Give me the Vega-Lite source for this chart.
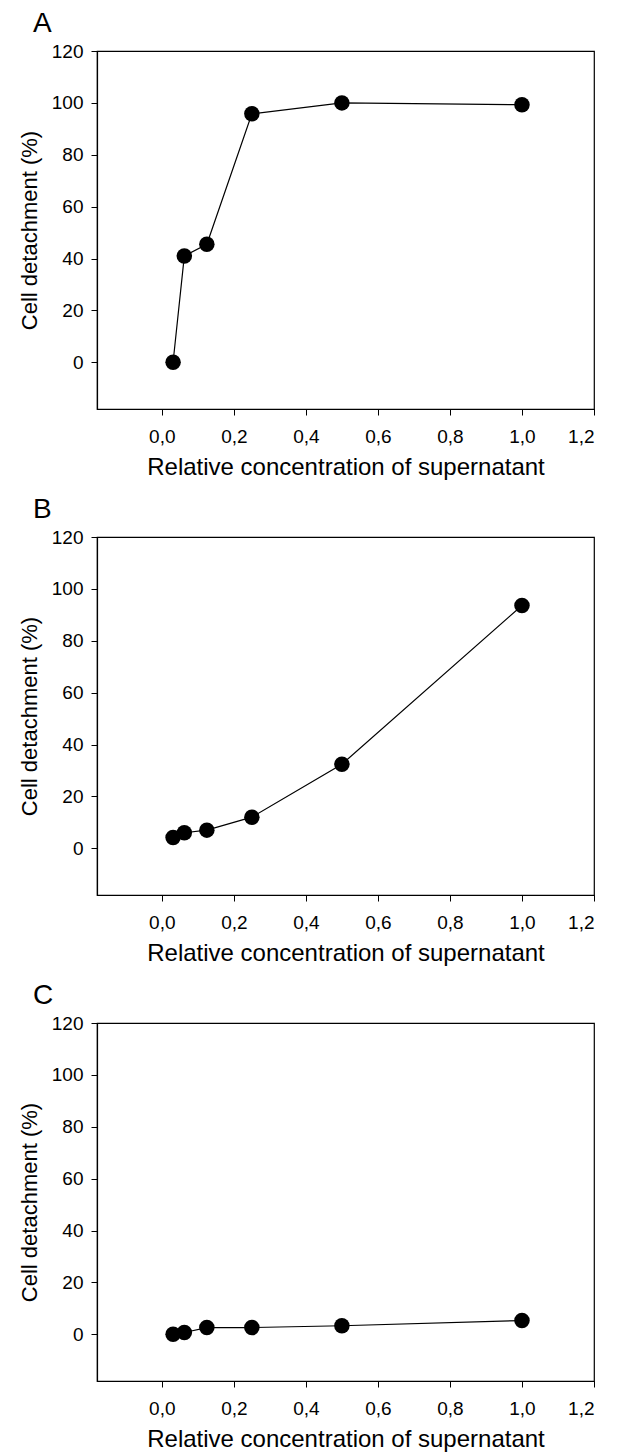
{
  "$schema": "https://vega.github.io/schema/vega-lite/v6.json",
  "padding": {"left": 17, "top": 9, "right": 5, "bottom": 5},
  "background": "white",
  "config": {
    "font": "Liberation Sans",
    "view": {"stroke": "black", "strokeWidth": 1.2},
    "axis": {
      "grid": false,
      "domainColor": "black",
      "domainWidth": 1.2,
      "tickColor": "black",
      "tickWidth": 1,
      "tickSize": 6,
      "labelFont": "Liberation Sans",
      "labelFontSize": 19,
      "labelColor": "black",
      "titleFont": "Liberation Sans",
      "titleFontWeight": "normal",
      "titleColor": "black"
    },
    "title": {"font": "Liberation Sans", "fontSize": 28, "fontWeight": "normal", "anchor": "start", "frame": "group", "color": "black"}
  },
  "data": {
    "values": [
      {"panel": "A", "conc": 0.03125, "detach": 0},
      {"panel": "A", "conc": 0.0625, "detach": 41},
      {"panel": "A", "conc": 0.125, "detach": 45.5},
      {"panel": "A", "conc": 0.25, "detach": 95.8},
      {"panel": "A", "conc": 0.5, "detach": 100},
      {"panel": "A", "conc": 1.0, "detach": 99.3},
      {"panel": "B", "conc": 0.03125, "detach": 4.2},
      {"panel": "B", "conc": 0.0625, "detach": 6},
      {"panel": "B", "conc": 0.125, "detach": 7},
      {"panel": "B", "conc": 0.25, "detach": 12},
      {"panel": "B", "conc": 0.5, "detach": 32.4},
      {"panel": "B", "conc": 1.0, "detach": 93.6},
      {"panel": "C", "conc": 0.03125, "detach": 0},
      {"panel": "C", "conc": 0.0625, "detach": 0.7},
      {"panel": "C", "conc": 0.125, "detach": 2.6},
      {"panel": "C", "conc": 0.25, "detach": 2.6},
      {"panel": "C", "conc": 0.5, "detach": 3.3},
      {"panel": "C", "conc": 1.0, "detach": 5.3}
    ]
  },
  "spacing": 15,
  "vconcat": [
    {
      "title": {"text": "A", "dx": -64},
      "width": 497, "height": 358,
      "transform": [{"filter": "datum.panel === 'A'"}],
      "encoding": {
        "x": {"field": "conc", "type": "quantitative", "scale": {"domain": [-0.18, 1.2], "nice": false, "zero": false},
              "axis": {"values": [0, 0.2, 0.4, 0.6, 0.8, 1.0, 1.2], "labelExpr": "replace(format(datum.value, '.1f'), '.', ',')", "title": "Relative concentration of supernatant", "titleFontSize": 24, "labelPadding": 12, "titlePadding": 9}},
        "y": {"field": "detach", "type": "quantitative", "scale": {"domain": [-18, 120], "nice": false, "zero": false},
              "axis": {"values": [0, 20, 40, 60, 80, 100, 120], "title": "Cell detachment (%)", "titleFontSize": 22, "labelPadding": 8, "titlePadding": 10}}
      },
      "layer": [
        {"mark": {"type": "line", "color": "black", "strokeWidth": 1.2}},
        {"mark": {"type": "point", "filled": true, "color": "black", "opacity": 1, "size": 240}}
      ]
    },
    {
      "title": {"text": "B", "dx": -64},
      "width": 497, "height": 358,
      "transform": [{"filter": "datum.panel === 'B'"}],
      "encoding": {
        "x": {"field": "conc", "type": "quantitative", "scale": {"domain": [-0.18, 1.2], "nice": false, "zero": false},
              "axis": {"values": [0, 0.2, 0.4, 0.6, 0.8, 1.0, 1.2], "labelExpr": "replace(format(datum.value, '.1f'), '.', ',')", "title": "Relative concentration of supernatant", "titleFontSize": 24, "labelPadding": 12, "titlePadding": 9}},
        "y": {"field": "detach", "type": "quantitative", "scale": {"domain": [-18, 120], "nice": false, "zero": false},
              "axis": {"values": [0, 20, 40, 60, 80, 100, 120], "title": "Cell detachment (%)", "titleFontSize": 22, "labelPadding": 8, "titlePadding": 10}}
      },
      "layer": [
        {"mark": {"type": "line", "color": "black", "strokeWidth": 1.2}},
        {"mark": {"type": "point", "filled": true, "color": "black", "opacity": 1, "size": 240}}
      ]
    },
    {
      "title": {"text": "C", "dx": -64},
      "width": 497, "height": 358,
      "transform": [{"filter": "datum.panel === 'C'"}],
      "encoding": {
        "x": {"field": "conc", "type": "quantitative", "scale": {"domain": [-0.18, 1.2], "nice": false, "zero": false},
              "axis": {"values": [0, 0.2, 0.4, 0.6, 0.8, 1.0, 1.2], "labelExpr": "replace(format(datum.value, '.1f'), '.', ',')", "title": "Relative concentration of supernatant", "titleFontSize": 24, "labelPadding": 12, "titlePadding": 9}},
        "y": {"field": "detach", "type": "quantitative", "scale": {"domain": [-18, 120], "nice": false, "zero": false},
              "axis": {"values": [0, 20, 40, 60, 80, 100, 120], "title": "Cell detachment (%)", "titleFontSize": 22, "labelPadding": 8, "titlePadding": 10}}
      },
      "layer": [
        {"mark": {"type": "line", "color": "black", "strokeWidth": 1.2}},
        {"mark": {"type": "point", "filled": true, "color": "black", "opacity": 1, "size": 240}}
      ]
    }
  ]
}
